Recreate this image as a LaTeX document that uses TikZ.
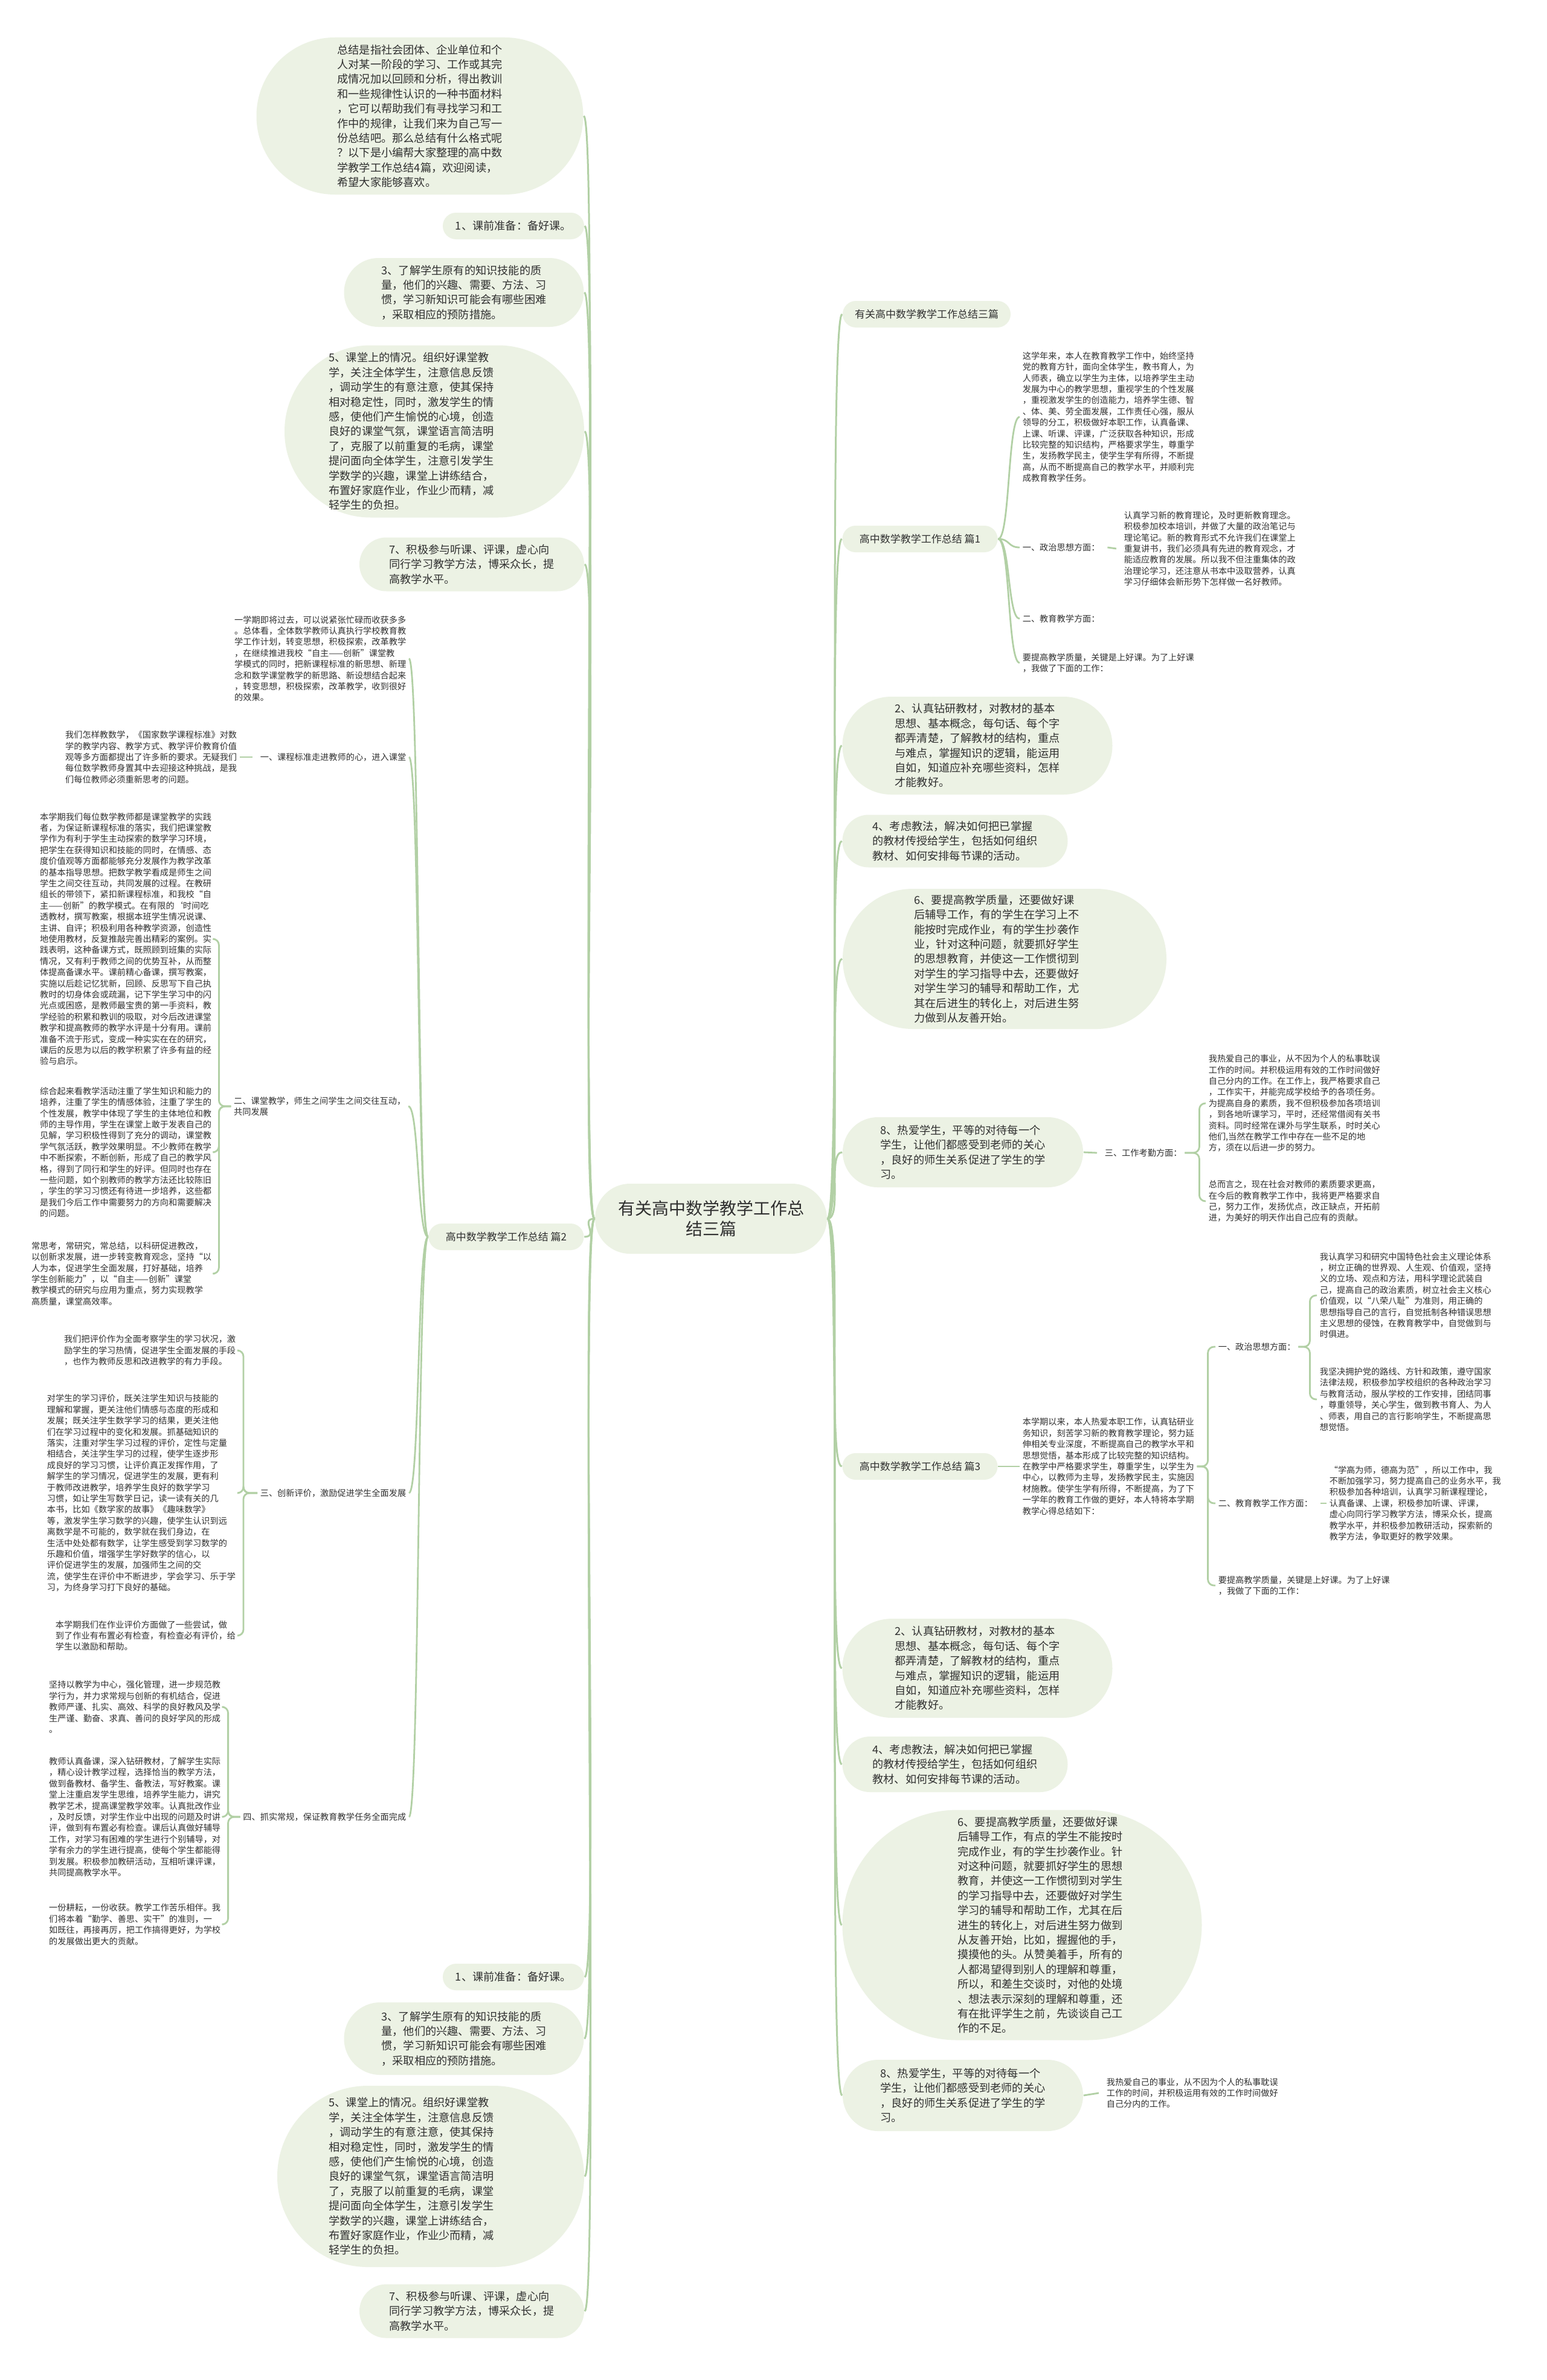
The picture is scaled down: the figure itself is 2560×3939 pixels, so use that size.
\documentclass[tikz,border=0pt]{standalone}
\usepackage{fontspec}
\setmainfont{Noto Sans CJK SC}
\usetikzlibrary{shapes.misc,calc}
\definecolor{pillbg}{RGB}{236,242,228}
\definecolor{lnk}{RGB}{178,208,165}
\definecolor{txt}{RGB}{48,48,48}
\tikzset{
 big/.style={font=\fontsize{4.55pt}{6.1pt}\selectfont},
 pill/.style={rounded rectangle, fill=pillbg, draw=none, inner sep=0pt, align=left, text=txt, big},
 bigtext/.style={inner sep=0pt, align=left, text=txt, big},
 lvone/.style={rounded rectangle, fill=pillbg, draw=none, inner sep=0pt, text=txt, font=\fontsize{4.25pt}{5pt}\selectfont, minimum height=11pt},
 tb/.style={font=\fontsize{3.55pt}{4.6pt}\selectfont, align=left, inner sep=1pt, text=txt},
 conn/.style={draw=lnk, line width=0.75pt},
 elb/.style={draw=lnk, line width=0.7pt, rounded corners=2.5pt},
}
\begin{document}
\begin{tikzpicture}[x=0.25pt,y=-0.25pt]
\useasboundingbox (0,0) rectangle (2560,3939);
\fill[white] (0,0) rectangle (2560,3939);

% ---------- centre ----------
\node[pill, align=center, minimum width=96pt, minimum height=29pt, font=\fontsize{7pt}{8.5pt}\selectfont] (T) at (1177,2017) {有关高中数学教学工作总\\结三篇};

% ---------- left big nodes ----------
\node[pill, minimum width=135.25pt, minimum height=65pt] (LI) at (695,192) {总结是指社会团体、企业单位和个\\人对某一阶段的学习、工作或其完\\成情况加以回顾和分析，得出教训\\和一些规律性认识的一种书面材料\\，它可以帮助我们有寻找学习和工\\作中的规律，让我们来为自己写一\\份总结吧。那么总结有什么格式呢\\？以下是小编帮大家整理的高中数\\学教学工作总结4篇，欢迎阅读，\\希望大家能够喜欢。};
\node[pill, minimum width=58.5pt, minimum height=11pt] (LA) at (850,374) {1、课前准备：备好课。};
\node[pill, minimum width=99.25pt, minimum height=28.5pt] (LB) at (768,484) {3、了解学生原有的知识技能的质\\量，他们的兴趣、需要、方法、习\\惯，学习新知识可能会有哪些困难\\，采取相应的预防措施。};
\node[pill, minimum width=124pt, minimum height=71.25pt] (LC) at (719,714) {};
\node[bigtext] (LCt) at (681,714) {5、课堂上的情况。组织好课堂教\\学，关注全体学生，注意信息反馈\\，调动学生的有意注意，使其保持\\相对稳定性，同时，激发学生的情\\感，使他们产生愉悦的心境，创造\\良好的课堂气氛，课堂语言简洁明\\了，克服了以前重复的毛病，课堂\\提问面向全体学生，注意引发学生\\学数学的兴趣，课堂上讲练结合，\\布置好家庭作业，作业少而精，减\\轻学生的负担。};
\node[pill, minimum width=93pt, minimum height=22.25pt] (LD) at (781,934) {7、积极参与听课、评课，虚心向\\同行学习教学方法，博采众长，提\\高教学水平。};

\node[pill, minimum width=58.5pt, minimum height=11pt] (LAb) at (850,3272) {1、课前准备：备好课。};
\node[pill, minimum width=99.25pt, minimum height=30pt] (LBb) at (768,3374) {3、了解学生原有的知识技能的质\\量，他们的兴趣、需要、方法、习\\惯，学习新知识可能会有哪些困难\\，采取相应的预防措施。};
\node[pill, minimum width=127pt, minimum height=75pt] (LCb) at (713,3602) {};
\node[bigtext] (LCbt) at (681,3602) {5、课堂上的情况。组织好课堂教\\学，关注全体学生，注意信息反馈\\，调动学生的有意注意，使其保持\\相对稳定性，同时，激发学生的情\\感，使他们产生愉悦的心境，创造\\良好的课堂气氛，课堂语言简洁明\\了，克服了以前重复的毛病，课堂\\提问面向全体学生，注意引发学生\\学数学的兴趣，课堂上讲练结合，\\布置好家庭作业，作业少而精，减\\轻学生的负担。};
\node[pill, minimum width=93pt, minimum height=22.25pt] (LDb) at (781,3825) {7、积极参与听课、评课，虚心向\\同行学习教学方法，博采众长，提\\高教学水平。};

% ---------- level one labels ----------
\node[lvone, minimum width=69.5pt] (R0) at (1534,520) {有关高中数学教学工作总结三篇};
\node[lvone, minimum width=64.25pt] (P1) at (1523,892) {高中数学教学工作总结 篇1};
\node[lvone, minimum width=64.25pt] (P2) at (838,2047) {高中数学教学工作总结 篇2};
\node[lvone, minimum width=64.25pt] (P3) at (1523,2427) {高中数学教学工作总结 篇3};

% ---------- right big nodes ----------
\node[pill, minimum width=111.75pt, minimum height=40.5pt] (RA) at (1618,1234) {2、认真钻研教材，对教材的基本\\思想、基本概念，每句话、每个字\\都弄清楚，了解教材的结构，重点\\与难点，掌握知识的逻辑，能运用\\自如，知道应补充哪些资料，怎样\\才能教好。};
\node[pill, minimum width=93.25pt, minimum height=21.75pt] (RB) at (1581,1392) {4、考虑教法，解决如何把已掌握\\的教材传授给学生，包括如何组织\\教材、如何安排每节课的活动。};
\node[pill, minimum width=134pt, minimum height=58pt] (RC) at (1663,1587) {};
\node[bigtext] (RCt) at (1650,1587) {6、要提高教学质量，还要做好课\\后辅导工作，有的学生在学习上不\\能按时完成作业，有的学生抄袭作\\业，针对这种问题，就要抓好学生\\的思想教育，并使这一工作惯彻到\\对学生的学习指导中去，还要做好\\对学生学习的辅导和帮助工作，尤\\其在后进生的转化上，对后进生努\\力做到从友善开始。};
\node[pill, minimum width=99.5pt, minimum height=29pt] (RD) at (1594,1907) {8、热爱学生，平等的对待每一个\\学生，让他们都感受到老师的关心\\，良好的师生关系促进了学生的学\\习。};

\node[pill, minimum width=111.75pt, minimum height=41pt] (RAb) at (1618,2761) {2、认真钻研教材，对教材的基本\\思想、基本概念，每句话、每个字\\都弄清楚，了解教材的结构，重点\\与难点，掌握知识的逻辑，能运用\\自如，知道应补充哪些资料，怎样\\才能教好。};
\node[pill, minimum width=93.25pt, minimum height=23pt] (RBb) at (1581,2920) {4、考虑教法，解决如何把已掌握\\的教材传授给学生，包括如何组织\\教材、如何安排每节课的活动。};
\node[pill, minimum width=148.75pt, minimum height=95.25pt] (RCb) at (1692,3186) {};
\node[bigtext] (RCbt) at (1722,3186) {6、要提高教学质量，还要做好课\\后辅导工作，有点的学生不能按时\\完成作业，有的学生抄袭作业。针\\对这种问题，就要抓好学生的思想\\教育，并使这一工作惯彻到对学生\\的学习指导中去，还要做好对学生\\学习的辅导和帮助工作，尤其在后\\进生的转化上，对后进生努力做到\\从友善开始，比如，握握他的手，\\摸摸他的头。从赞美着手，所有的\\人都渴望得到别人的理解和尊重，\\所以，和差生交谈时，对他的处境\\、想法表示深刻的理解和尊重，还\\有在批评学生之前，先谈谈自己工\\作的不足。};
\node[pill, minimum width=99.5pt, minimum height=29.5pt] (RDb) at (1594,3468) {8、热爱学生，平等的对待每一个\\学生，让他们都感受到老师的关心\\，良好的师生关系促进了学生的学\\习。};

% ---------- 篇1 subtree ----------
\node[tb, anchor=west] (G0) at (1688,690) {这学年来，本人在教育教学工作中，始终坚持\\党的教育方针，面向全体学生，教书育人，为\\人师表，确立以学生为主体，以培养学生主动\\发展为中心的教学思想，重视学生的个性发展\\，重视激发学生的创造能力，培养学生德、智\\、体、美、劳全面发展，工作责任心强，服从\\领导的分工，积极做好本职工作，认真备课、\\上课、听课、评课，广泛获取各种知识，形成\\比较完整的知识结构，严格要求学生，尊重学\\生，发扬教学民主，使学生学有所得，不断提\\高，从而不断提高自己的教学水平，并顺利完\\成教育教学任务。};
\node[tb, anchor=west] (G1) at (1688,906) {一、政治思想方面：};
\node[tb, anchor=west] (G1c) at (1856,908) {认真学习新的教育理论，及时更新教育理念。\\积极参加校本培训，并做了大量的政治笔记与\\理论笔记。新的教育形式不允许我们在课堂上\\重复讲书，我们必须具有先进的教育观念，才\\能适应教育的发展。所以我不但注重集体的政\\治理论学习，还注意从书本中汲取营养，认真\\学习仔细体会新形势下怎样做一名好教师。};
\node[tb, anchor=west] (G2) at (1688,1024) {二、教育教学方面：};
\node[tb, anchor=west] (G3) at (1688,1097) {要提高教学质量，关键是上好课。为了上好课\\，我做了下面的工作：};

% ---------- 8 -> 三 ----------
\node[tb, anchor=west] (K8) at (1824,1908) {三、工作考勤方面：};
\node[tb, anchor=west] (F1) at (1996,1826) {我热爱自己的事业，从不因为个人的私事耽误\\工作的时间。并积极运用有效的工作时间做好\\自己分内的工作。在工作上，我严格要求自己\\，工作实干，并能完成学校给予的各项任务。\\为提高自身的素质，我不但积极参加各项培训\\，到各地听课学习，平时，还经常借阅有关书\\资料。同时经常在课外与学生联系，时时关心\\他们,当然在教学工作中存在一些不足的地\\方，须在以后进一步的努力。};
\node[tb, anchor=west] (F2) at (1996,1988) {总而言之，现在社会对教师的素质要求更高，\\在今后的教育教学工作中，我将更严格要求自\\己，努力工作，发扬优点，改正缺点，开拓前\\进，为美好的明天作出自己应有的贡献。};

% ---------- 篇3 subtree ----------
\node[tb, anchor=west] (H0) at (1688,2427) {本学期以来，本人热爱本职工作，认真钻研业\\务知识，刻苦学习新的教育教学理论，努力延\\伸相关专业深度，不断提高自己的教学水平和\\思想觉悟，基本形成了比较完整的知识结构。\\在教学中严格要求学生，尊重学生，以学生为\\中心，以教师为主导，发扬教学民主，实施因\\材施教。使学生学有所得，不断提高，为了下\\一学年的教育工作做的更好，本人特将本学期\\教学心得总结如下：};
\node[tb, anchor=west] (H1) at (2012,2229) {一、政治思想方面：};
\node[tb, anchor=west] (H2) at (2012,2488) {二、教育教学工作方面：};
\node[tb, anchor=west] (H3) at (2012,2624) {要提高教学质量，关键是上好课。为了上好课\\，我做了下面的工作：};
\node[tb, anchor=west] (M1) at (2180,2144) {我认真学习和研究中国特色社会主义理论体系\\，树立正确的世界观、人生观、价值观，坚持\\义的立场、观点和方法，用科学理论武装自\\己，提高自己的政治素质，树立社会主义核心\\价值观，以“八荣八耻”为准则，用正确的\\思想指导自己的言行，自觉抵制各种错误思想\\主义思想的侵蚀，在教育教学中，自觉做到与\\时俱进。};
\node[tb, anchor=west] (M2) at (2180,2316) {我坚决拥护党的路线、方针和政策，遵守国家\\法律法规，积极参加学校组织的各种政治学习\\与教育活动，服从学校的工作安排，团结同事\\，尊重领导，关心学生，做到教书育人、为人\\、师表，用自己的言行影响学生，不断提高思\\想觉悟。};
\node[tb, anchor=west] (N1) at (2196,2488) {“学高为师，德高为范”，所以工作中，我\\不断加强学习，努力提高自己的业务水平，我\\积极参加各种培训，认真学习新课程理论，\\认真备课、上课，积极参加听课、评课，\\虚心向同行学习教学方法，博采众长，提高\\教学水平，并积极参加教研活动，探索新的\\教学方法，争取更好的教学效果。};
\node[tb, anchor=west] (Q1) at (1827,3464) {我热爱自己的事业，从不因为个人的私事耽误\\工作的时间，并积极运用有效的工作时间做好\\自己分内的工作。};

% ---------- 篇2 subtree ----------
\node[tb, anchor=east] (A1) at (677,1090) {一学期即将过去，可以说紧张忙碌而收获多多\\。总体看，全体数学教师认真执行学校教育教\\学工作计划，转变思想，积极探索，改革教学\\，在继续推进我校“自主——创新”课堂教\\学模式的同时，把新课程标准的新思想、新理\\念和数学课堂教学的新思路、新设想结合起来\\，转变思想，积极探索，改革教学，收到很好\\的效果。};
\node[tb, anchor=east] (S1) at (677,1253) {一、课程标准走进教师的心，进入课堂};
\node[tb, anchor=east] (B1) at (397,1253) {我们怎样教数学，《国家数学课程标准》对数\\学的教学内容、教学方式、教学评价教育价值\\观等多方面都提出了许多新的要求。无疑我们\\每位数学教师身置其中去迎接这种挑战，是我\\们每位教师必须重新思考的问题。};
\node[tb, anchor=east] (S2) at (676,1831) {二、课堂教学，师生之间学生之间交往互动，\\共同发展};
\node[tb, anchor=east] (C1) at (355,1554) {本学期我们每位数学教师都是课堂教学的实践\\者，为保证新课程标准的落实，我们把课堂教\\学作为有利于学生主动探索的数学学习环境，\\把学生在获得知识和技能的同时，在情感、态\\度价值观等方面都能够充分发展作为教学改革\\的基本指导思想。把数学教学看成是师生之间\\学生之间交往互动，共同发展的过程。在教研\\组长的带领下，紧扣新课程标准，和我校“自\\主——创新”的教学模式。在有限的`时间吃\\透教材，撰写教案，根据本班学生情况说课、\\主讲、自评；积极利用各种教学资源，创造性\\地使用教材，反复推敲完善出精彩的案例。实\\践表明，这种备课方式，既照顾到班集的实际\\情况，又有利于教师之间的优势互补，从而整\\体提高备课水平。课前精心备课，撰写教案，\\实施以后趁记忆犹新，回顾、反思写下自己执\\教时的切身体会或疏漏，记下学生学习中的闪\\光点或困惑，是教师最宝贵的第一手资料，教\\学经验的积累和教训的吸取，对今后改进课堂\\教学和提高教师的教学水评是十分有用。课前\\准备不流于形式，变成一种实实在在的研究，\\课后的反思为以后的教学积累了许多有益的经\\验与启示。};
\node[tb, anchor=east] (C2) at (355,1907) {综合起来看教学活动注重了学生知识和能力的\\培养，注重了学生的情感体验，注重了学生的\\个性发展，教学中体现了学生的主体地位和教\\师的主导作用，学生在课堂上敢于发表自己的\\见解，学习积极性得到了充分的调动，课堂教\\学气氛活跃，教学效果明显。不少教师在教学\\中不断探索，不断创新，形成了自己的教学风\\格，得到了同行和学生的好评。但同时也存在\\一些问题，如个别教师的教学方法还比较陈旧\\，学生的学习习惯还有待进一步培养，这些都\\是我们今后工作中需要努力的方向和需要解决\\的问题。};
\node[tb, anchor=east] (C3) at (355,2108) {常思考，常研究，常总结，以科研促进教改，\\以创新求发展，进一步转变教育观念，坚持“以\\人为本，促进学生全面发展，打好基础，培养\\学生创新能力”，以“自主——创新”课堂\\教学模式的研究与应用为重点，努力实现教学\\高质量，课堂高效率。};
\node[tb, anchor=east] (S3) at (677,2471) {三、创新评价，激励促进学生全面发展};
\node[tb, anchor=east] (D1) at (395,2235) {我们把评价作为全面考察学生的学习状况，激\\励学生的学习热情，促进学生全面发展的手段\\，也作为教师反思和改进教学的有力手段。};
\node[tb, anchor=east] (D2) at (395,2471) {对学生的学习评价，既关注学生知识与技能的\\理解和掌握，更关注他们情感与态度的形成和\\发展；既关注学生数学学习的结果，更关注他\\们在学习过程中的变化和发展。抓基础知识的\\落实，注重对学生学习过程的评价，定性与定量\\相结合，关注学生学习的过程，使学生逐步形\\成良好的学习习惯，让评价真正发挥作用，了\\解学生的学习情况，促进学生的发展，更有利\\于教师改进教学，培养学生良好的数学学习\\习惯，如让学生写数学日记，读一读有关的几\\本书，比如《数学家的故事》《趣味数学》\\等，激发学生学习数学的兴趣，使学生认识到远\\离数学是不可能的，数学就在我们身边，在\\生活中处处都有数学，让学生感受到学习数学的\\乐趣和价值，增强学生学好数学的信心，以\\评价促进学生的发展，加强师生之间的交\\流，使学生在评价中不断进步，学会学习、乐于学\\习，为终身学习打下良好的基础。};
\node[tb, anchor=east] (D3) at (395,2707) {本学期我们在作业评价方面做了一些尝试，做\\到了作业有布置必有检查，有检查必有评价，给\\学生以激励和帮助。};
\node[tb, anchor=east] (S4) at (677,3007) {四、抓实常规，保证教育教学任务全面完成};
\node[tb, anchor=east] (E1) at (370,2825) {坚持以教学为中心，强化管理，进一步规范教\\学行为，并力求常规与创新的有机结合，促进\\教师严谨、扎实、高效、科学的良好教风及学\\生严谨、勤奋、求真、善问的良好学风的形成\\。};
\node[tb, anchor=east] (E2) at (370,3007) {教师认真备课，深入钻研教材，了解学生实际\\，精心设计教学过程，选择恰当的教学方法，\\做到备教材、备学生、备教法，写好教案。课\\堂上注重启发学生思维，培养学生能力，讲究\\教学艺术，提高课堂教学效率。认真批改作业\\，及时反馈，对学生作业中出现的问题及时讲\\评，做到有布置必有检查。课后认真做好辅导\\工作，对学习有困难的学生进行个别辅导，对\\学有余力的学生进行提高，使每个学生都能得\\到发展。积极参加教研活动，互相听课评课，\\共同提高教学水平。};
\node[tb, anchor=east] (E3) at (370,3185) {一份耕耘，一份收获。教学工作苦乐相伴。我\\们将本着“勤学、善思、实干”的准则，一\\如既往，再接再厉，把工作搞得更好，为学校\\的发展做出更大的贡献。};

% ---------- connectors: centre ----------
\foreach \n in {R0,P1,RA,RB,RC,RD,P3,RAb,RBb,RCb,RDb}
  \draw[conn] (T.east) .. controls +(25,0) and +(-25,0) .. (\n.west);
\foreach \n in {LI,LA,LB,LC,LD,P2,LAb,LBb,LCb,LDb}
  \draw[conn] (T.west) .. controls +(-25,0) and +(25,0) .. (\n.east);

% 篇1
\foreach \n in {G0,G1,G2,G3}
  \draw[conn, line width=0.7pt] (P1.east) .. controls +(20,0) and +(-20,0) .. (\n.west);
\draw[conn, line width=0.7pt] ([xshift=2pt]G1.east) -- ([xshift=-2pt]G1c.west);

% 8 -> 三
\draw[conn, line width=0.7pt] (RD.east) -- ([xshift=-2pt]K8.west);
\draw[elb] (K8.east) -- ([xshift=6pt]K8.east) |- (F1.west);
\draw[elb] (K8.east) -- ([xshift=6pt]K8.east) |- (F2.west);
\draw[conn, line width=0.7pt] (RDb.east) -- ([xshift=-2pt]Q1.west);

% 篇3
\draw[conn, line width=0.7pt] (P3.east) -- (H0.west);
\draw[elb] (H0.east) -- ([xshift=4.5pt]H0.east) |- (H1.west);
\draw[elb] (H0.east) -- ([xshift=4.5pt]H0.east) |- (H2.west);
\draw[elb] (H0.east) -- ([xshift=4.5pt]H0.east) |- (H3.west);
\draw[elb] (H1.east) -- ([xshift=4.75pt]H1.east) |- (M1.west);
\draw[elb] (H1.east) -- ([xshift=4.75pt]H1.east) |- (M2.west);
\draw[conn, line width=0.7pt] ([xshift=2pt]H2.east) -- (N1.west);

% 篇2
\foreach \n in {A1,S1,S2,S3,S4}
  \draw[conn, line width=0.7pt] (P2.west) .. controls +(-18,0) and +(18,0) .. (\n.east);
\draw[conn, line width=0.7pt] ([xshift=-2pt]S1.west) -- (B1.east);
\foreach \n in {C1,C2,C3}
  \draw[elb] (S2.west) -- ([xshift=-5pt]S2.west) |- (\n.east);
\foreach \n in {D1,D2,D3}
  \draw[elb] (S3.west) -- ([xshift=-5.75pt]S3.west) |- (\n.east);
\foreach \n in {E1,E2,E3}
  \draw[elb] (S4.west) -- ([xshift=-5pt]S4.west) |- (\n.east);
\end{tikzpicture}
\end{document}
